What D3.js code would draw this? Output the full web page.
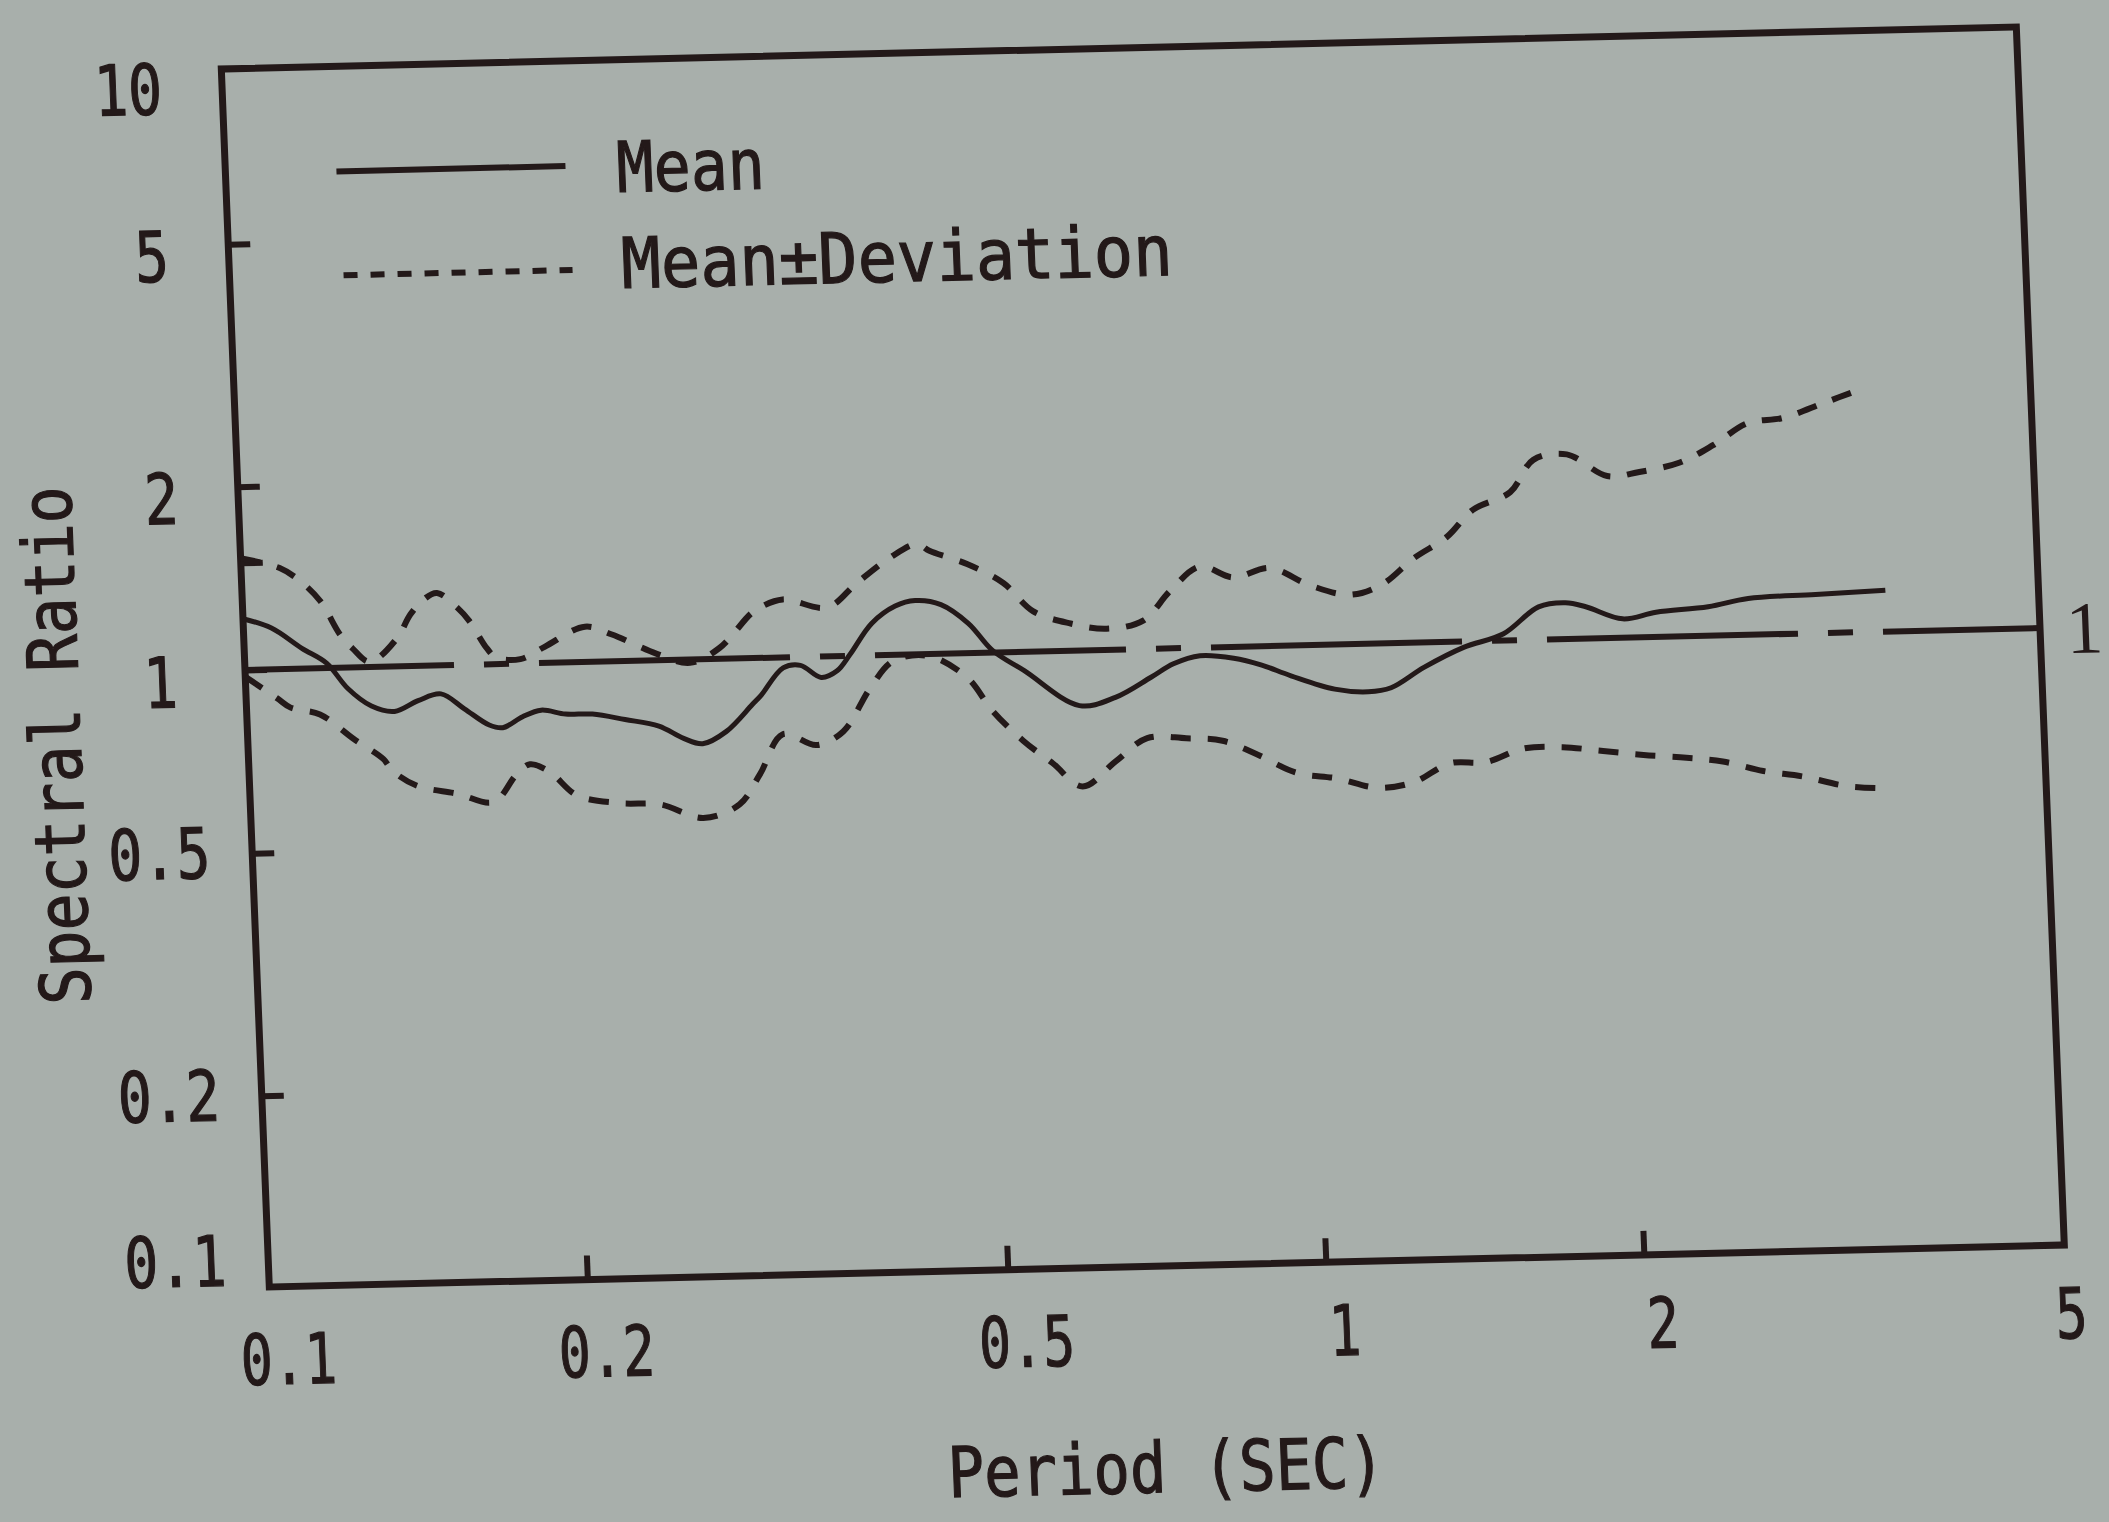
<!DOCTYPE html>
<html>
<head>
<meta charset="utf-8">
<script src="https://cdn.jsdelivr.net/npm/d3@7"></script>
<style>
  html, body { margin: 0; padding: 0; background: #a8afab; }
  svg { display: block; }
</style>
</head>
<body>
<svg id="chart" width="2109" height="1522"></svg>
<script>
// values (period in sec, spectral ratio)
const meanPeriod = [0.1, 0.1063, 0.1134, 0.1195, 0.1249, 0.1313, 0.138, 0.1454, 0.1529, 0.1607, 0.1694, 0.1744, 0.1823, 0.1899, 0.2002, 0.2123, 0.2278, 0.2451, 0.2584, 0.2692, 0.2838, 0.3009, 0.3071, 0.3228, 0.3353, 0.3504, 0.363, 0.3738, 0.3929, 0.4142, 0.4328, 0.4576, 0.4852, 0.51, 0.5456, 0.6134, 0.6639, 0.7186, 0.7554, 0.801, 0.8618, 0.9139, 0.9747, 1.071, 1.152, 1.211, 1.303, 1.423, 1.554, 1.681, 1.783, 1.863, 2.017, 2.17, 2.432, 2.655, 3.076, 3.582];
const meanRatio = [1.214, 1.169, 1.080, 1.019, 0.924, 0.863, 0.844, 0.877, 0.898, 0.847, 0.795, 0.786, 0.818, 0.837, 0.823, 0.821, 0.802, 0.780, 0.743, 0.727, 0.760, 0.839, 0.869, 0.961, 0.969, 0.924, 0.946, 1.005, 1.128, 1.202, 1.225, 1.204, 1.118, 1.008, 0.931, 0.812, 0.835, 0.898, 0.943, 0.970, 0.958, 0.932, 0.892, 0.845, 0.834, 0.845, 0.910, 0.978, 1.026, 1.132, 1.147, 1.128, 1.074, 1.098, 1.116, 1.147, 1.158, 1.169];

const upperPeriod = [0.1, 0.1088, 0.1136, 0.1185, 0.1234, 0.1266, 0.1313, 0.1395, 0.144, 0.1484, 0.1529, 0.1596, 0.1637, 0.1696, 0.173, 0.1823, 0.1924, 0.2104, 0.223, 0.2452, 0.2636, 0.2815, 0.302, 0.3085, 0.3244, 0.3571, 0.3816, 0.4115, 0.4369, 0.4483, 0.4861, 0.5252, 0.5588, 0.606, 0.6553, 0.7098, 0.7547, 0.8067, 0.867, 0.9392, 1.024, 1.117, 1.199, 1.286, 1.386, 1.469, 1.596, 1.683, 1.811, 1.974, 2.118, 2.315, 2.495, 2.689, 2.912, 3.183, 3.449];
const upperRatio = [1.526, 1.465, 1.393, 1.289, 1.133, 1.075, 1.020, 1.110, 1.215, 1.284, 1.315, 1.242, 1.179, 1.063, 1.025, 1.017, 1.063, 1.143, 1.107, 1.026, 0.988, 1.042, 1.181, 1.210, 1.245, 1.203, 1.315, 1.445, 1.517, 1.477, 1.400, 1.299, 1.165, 1.108, 1.083, 1.113, 1.242, 1.358, 1.300, 1.343, 1.253, 1.205, 1.251, 1.375, 1.488, 1.643, 1.751, 1.974, 2.009, 1.845, 1.868, 1.929, 2.055, 2.224, 2.263, 2.385, 2.502];

const lowerPeriod = [0.1, 0.107, 0.1101, 0.1173, 0.1259, 0.1341, 0.1368, 0.144, 0.1571, 0.1699, 0.1789, 0.1845, 0.1926, 0.2038, 0.2237, 0.2442, 0.2679, 0.2902, 0.3041, 0.3208, 0.3448, 0.366, 0.3894, 0.4103, 0.4431, 0.4814, 0.5075, 0.5414, 0.5763, 0.6134, 0.6615, 0.709, 0.7719, 0.8352, 0.8977, 0.9785, 1.068, 1.165, 1.261, 1.368, 1.48, 1.608, 1.751, 1.911, 2.086, 2.29, 2.478, 2.704, 2.942, 3.238, 3.534];
const lowerRatio = [0.975, 0.896, 0.864, 0.840, 0.764, 0.706, 0.674, 0.636, 0.615, 0.594, 0.657, 0.683, 0.662, 0.605, 0.585, 0.580, 0.549, 0.576, 0.644, 0.748, 0.716, 0.752, 0.883, 0.976, 0.993, 0.912, 0.802, 0.714, 0.654, 0.598, 0.657, 0.714, 0.711, 0.702, 0.666, 0.618, 0.603, 0.580, 0.590, 0.632, 0.633, 0.664, 0.665, 0.653, 0.641, 0.632, 0.621, 0.597, 0.583, 0.560, 0.553];

const xTickValues = [0.1, 0.2, 0.5, 1, 2, 5];
const xTickLabels = ['0.1', '0.2', '0.5', '1', '2', '5'];
const yTickValues = [10, 5, 2, 1.5, 1, 0.5, 0.2, 0.1];
const yTickLabels = ['10', '5', '2', '', '1', '0.5', '0.2', '0.1'];
const referenceRatio = 1;
const legendLabels = ['Mean', 'Mean\u00B1Deviation'];

const ink = '#231919';
const mono = "'DejaVu Sans Mono', 'Liberation Mono', monospace";
const W = 1795, H = 1218;
const frameShift = 8;   // the printed frame sits a few px below the decade marks

const x = d3.scaleLog().domain([0.1, 5]).range([0, W]);
const y = d3.scaleLog().domain([0.1, 10]).range([H, 0]);

const svg = d3.select('#chart');
svg.append('rect').attr('width', 2109).attr('height', 1522).attr('fill', '#a8afab');

// the photo is a little rotated / sheared, so the whole plot sits in one skewed group
const g = svg.append('g').attr('transform', 'matrix(1,-0.0234,0.0394,1,221,61)');

function inkText(sel) {
    return sel.attr('font-family', mono).attr('font-size', 70)
        .attr('fill', ink).attr('stroke', ink).attr('stroke-width', 1.2);
}

// frame
g.append('rect')
    .attr('y', frameShift)
    .attr('width', W).attr('height', H)
    .attr('fill', 'none').attr('stroke', ink).attr('stroke-width', 7);

// y axis
const yAxis = d3.axisLeft(y)
    .tickValues(yTickValues)
    .tickSizeInner(-22).tickSizeOuter(0).tickPadding(0)
    .tickFormat((d, i) => yTickLabels[i]);
const ya = g.append('g').call(yAxis);
ya.select('.domain').remove();
ya.selectAll('.tick line')
    .attr('stroke', ink).attr('stroke-width', 6)
    .attr('display', d => (d === 10 || d === 0.1) ? 'none' : null);
ya.selectAll('.tick text')
    .call(inkText)
    .attr('x', d => d < 1 ? -42 : (d === 1 ? -68 : -60))
    .attr('y', d => Math.min(Math.max(y(d) + (d < 1 ? -2 : 10), 26), H - 20) - y(d))
    .attr('dy', '0.36em')
    .attr('textLength', (d, i) => yTickLabels[i].length * 34)
    .attr('lengthAdjust', 'spacingAndGlyphs');

// x axis
const xAxis = d3.axisBottom(x)
    .tickValues(xTickValues)
    .tickSizeInner(-24).tickSizeOuter(0).tickPadding(0)
    .tickFormat((d, i) => xTickLabels[i]);
const xa = g.append('g').attr('transform', `translate(0,${H + frameShift})`).call(xAxis);
xa.select('.domain').remove();
xa.selectAll('.tick line')
    .attr('stroke', ink).attr('stroke-width', 6)
    .attr('display', d => (d === 0.1 || d === 5) ? 'none' : null);
xa.selectAll('.tick text')
    .call(inkText)
    .attr('x', d => d === 5 ? 4 : 16).attr('y', d => d < 1 ? 72 : 68).attr('dy', '0.36em')
    .attr('textLength', (d, i) => xTickLabels[i].length * 32)
    .attr('lengthAdjust', 'spacingAndGlyphs');

// reference line at ratio 1
g.append('line')
    .attr('x1', x.range()[0]).attr('x2', x.range()[1])
    .attr('y1', y(referenceRatio)).attr('y2', y(referenceRatio))
    .attr('stroke', ink).attr('stroke-width', 6)
    .attr('stroke-dasharray', '251,30,25,30')
    .attr('stroke-dashoffset', 42);

g.append('text')
    .attr('x', W + 26).attr('y', y(referenceRatio)).attr('dy', '0.35em')
    .attr('font-family', "'Liberation Serif', serif").attr('font-size', 74)
    .attr('fill', ink)
    .text('1');

// curves
const line = d3.line()
    .x(d => x(d[0]))
    .y(d => y(d[1]))
    .curve(d3.curveCatmullRom.alpha(0.5));

const meanData = d3.zip(meanPeriod, meanRatio);
const upperData = d3.zip(upperPeriod, upperRatio);
const lowerData = d3.zip(lowerPeriod, lowerRatio);

g.append('path').datum(upperData)
    .attr('d', line).attr('fill', 'none')
    .attr('stroke', ink).attr('stroke-width', 6)
    .attr('stroke-dasharray', '20,17');

g.append('path').datum(lowerData)
    .attr('d', line).attr('fill', 'none')
    .attr('stroke', ink).attr('stroke-width', 6)
    .attr('stroke-dasharray', '20,17');

g.append('path').datum(meanData)
    .attr('d', line).attr('fill', 'none')
    .attr('stroke', ink).attr('stroke-width', 5)
    .attr('stroke-linejoin', 'round');

// legend
const legend = g.append('g').attr('transform', 'translate(111,113)');
legend.append('line')
    .attr('x1', 0).attr('x2', 229).attr('y1', 0).attr('y2', 0)
    .attr('stroke', ink).attr('stroke-width', 6);
legend.append('text')
    .call(inkText)
    .attr('x', 280).attr('y', 2).attr('dy', '0.36em')
    .attr('textLength', 148).attr('lengthAdjust', 'spacingAndGlyphs')
    .text(legendLabels[0]);
legend.append('line')
    .attr('x1', 3).attr('x2', 232).attr('y1', 104).attr('y2', 104)
    .attr('stroke', ink).attr('stroke-width', 6)
    .attr('stroke-dasharray', '14,13');
legend.append('text')
    .call(inkText)
    .attr('x', 281).attr('y', 98).attr('dy', '0.36em')
    .attr('textLength', 551).attr('lengthAdjust', 'spacingAndGlyphs')
    .text(legendLabels[1]);

// axis titles
g.append('text')
    .call(inkText)
    .attr('transform', 'translate(-167,680) rotate(-90)')
    .attr('text-anchor', 'middle')
    .attr('textLength', 518).attr('lengthAdjust', 'spacingAndGlyphs')
    .text('Spectral Ratio');

g.append('text')
    .call(inkText)
    .attr('x', 889).attr('y', 1452)
    .attr('text-anchor', 'middle')
    .attr('textLength', 437).attr('lengthAdjust', 'spacingAndGlyphs')
    .text('Period (SEC)');
</script>
</body>
</html>
